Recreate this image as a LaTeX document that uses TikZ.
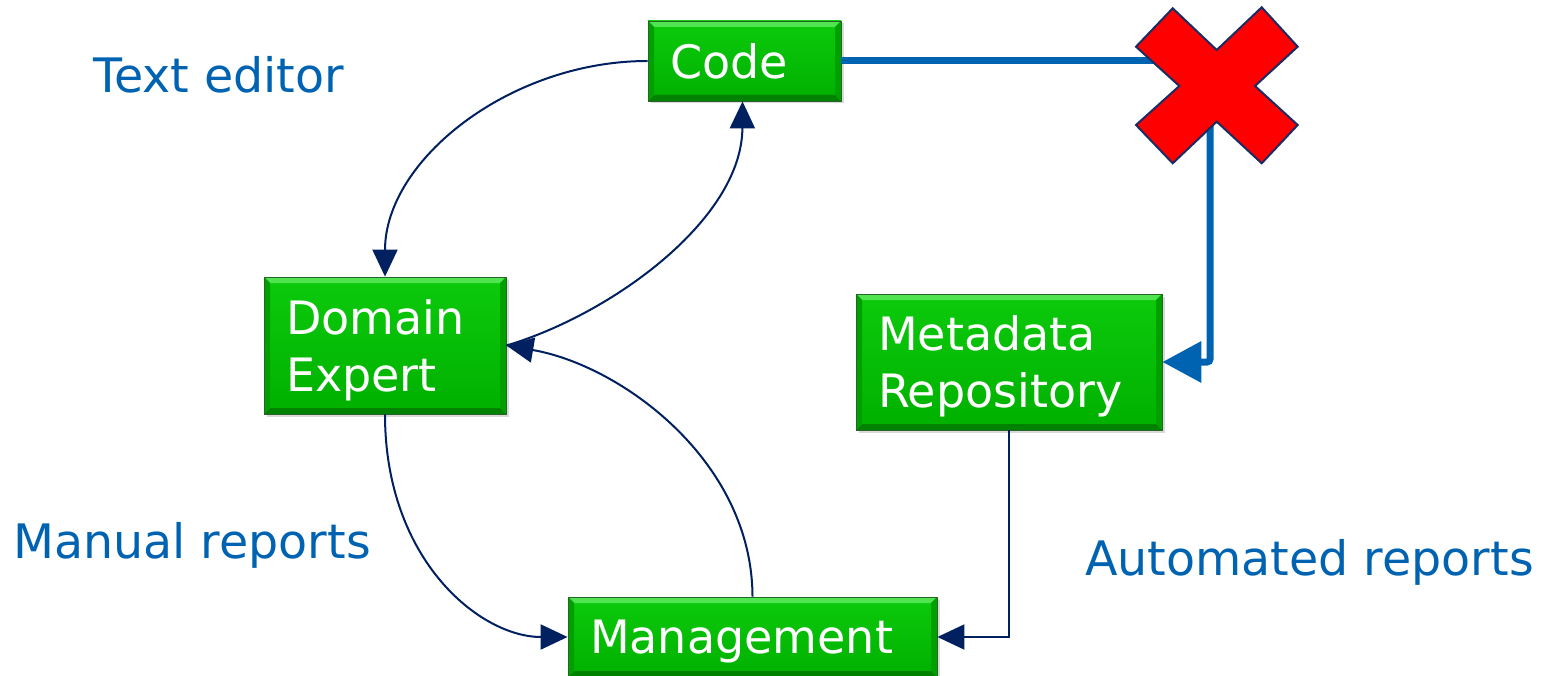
\documentclass[tikz,border=0pt]{standalone}
\usepackage{fontspec}
\setmainfont{DejaVu Sans}
\usetikzlibrary{arrows.meta,shadows}
\definecolor{navy}{RGB}{0,32,96}
\definecolor{lblue}{RGB}{0,99,177}
\definecolor{gtop}{RGB}{12,202,12}
\definecolor{gbot}{RGB}{0,176,0}
\definecolor{glight}{RGB}{80,228,80}
\definecolor{gdark}{RGB}{0,130,0}
\definecolor{gside}{RGB}{0,160,0}
\definecolor{gedge}{RGB}{40,100,40}
\definecolor{xred}{RGB}{255,0,0}
\definecolor{xedge}{RGB}{25,45,100}
\begin{document}
\begin{tikzpicture}[x=1pt,y=-1pt,
  box/.style={draw=gedge, line width=0.8pt, top color=gtop, bottom color=gbot,
    text=white, font=\fontsize{46}{57}\selectfont, align=left,
    inner xsep=22pt, inner ysep=0pt, text depth=0pt,
    drop shadow={opacity=0.3,shadow xshift=2.5pt,shadow yshift=-2.5pt},
    path picture={
      \fill[glight] (path picture bounding box.north west) -- (path picture bounding box.north east)
        -- ([shift={(-6pt,-6pt)}]path picture bounding box.north east) -- ([shift={(6pt,-6pt)}]path picture bounding box.north west) -- cycle;
      \fill[gdark] (path picture bounding box.south west) -- (path picture bounding box.south east)
        -- ([shift={(-6pt,6pt)}]path picture bounding box.south east) -- ([shift={(6pt,6pt)}]path picture bounding box.south west) -- cycle;
      \fill[gside] (path picture bounding box.north east) -- (path picture bounding box.south east)
        -- ([shift={(-6pt,6pt)}]path picture bounding box.south east) -- ([shift={(-6pt,-6pt)}]path picture bounding box.north east) -- cycle;
      \fill[gside] (path picture bounding box.north west) -- (path picture bounding box.south west)
        -- ([shift={(6pt,6pt)}]path picture bounding box.south west) -- ([shift={(6pt,-6pt)}]path picture bounding box.north west) -- cycle;
    }},
  twoline/.style={text depth=57pt},
  lbl/.style={text=lblue, font=\fontsize{47.5}{57}\selectfont, inner sep=0pt, anchor=base west},
  arr/.style={draw=navy, line width=2pt, -{Triangle[length=27pt,width=25pt]}},
  thick blue/.style={draw=lblue, line width=7pt},
]
\useasboundingbox (0,0) rectangle (1541,676);

% boxes
\node[box, minimum width=193pt, minimum height=80pt, text width=149pt] (code) at (744.5,61) {Code};
\node[box, twoline, minimum width=242pt, minimum height=137pt, text width=198pt] (de) at (385,345.5) {Domain\\Expert};
\node[box, twoline, minimum width=306pt, minimum height=136pt, text width=262pt] (meta) at (1009,362) {Metadata\\Repository};
\node[box, minimum width=369pt, minimum height=80pt, text width=325pt] (mgmt) at (752.5,637) {Management};

% labels
\node[lbl] (te) at (93,93) {Text editor};
\node[lbl] (mr) at (13,558) {Manual reports};
\node[lbl] (ar) at (1085,575) {Automated reports};

% thick blue connectors
\coordinate (xl) at (1185,61);
\coordinate (xb) at (1210,110);
\draw[thick blue] (code.east) -- (xl);
\draw[thick blue, rounded corners=3pt, -{Triangle[length=39pt,width=40pt]}] (xb) |- (meta.east);

% red cross
\coordinate (X) at (1217,86);
\draw[xedge, line width=2pt, fill=xred, line join=miter]
  (1172.7,8.3) -- (1216.7,50) -- (1261.7,7.3) -- (1297.7,46.7) -- (1255,86)
  -- (1297.7,125) -- (1261.7,163.3) -- (1216.7,121.7) -- (1172.7,163.3)
  -- (1136,125) -- (1179.3,86) -- (1136,46.7) -- cycle;

% navy curved connectors
\draw[arr] (code.west) .. controls (510,61) and (385,160) .. (de.north);
\draw[arr] (de.east) .. controls (610,315) and (742,220) .. ([xshift=-2pt]code.south);
\draw[arr] (mgmt.north) .. controls (752,460) and (620,365) .. (de.east);
\draw[arr] (de.south) .. controls (385,560) and (480,637) .. (mgmt.west);
\draw[arr] (meta.south) |- (mgmt.east);
\end{tikzpicture}
\end{document}
